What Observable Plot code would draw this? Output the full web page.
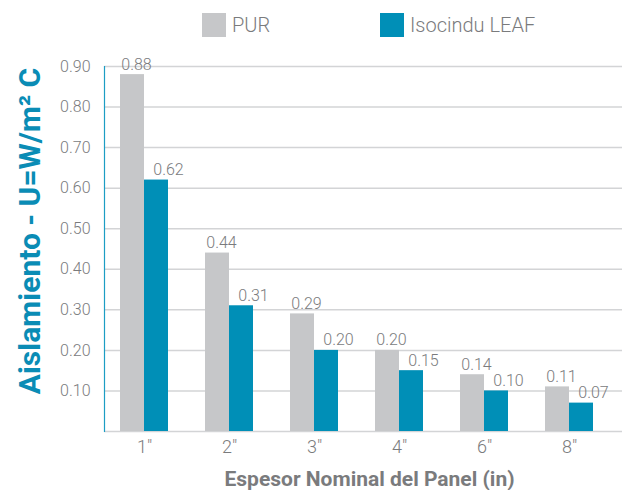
<!DOCTYPE html>
<html>
<head>
<meta charset="utf-8">
<script src="https://cdn.jsdelivr.net/npm/d3@7"></script>
<script src="https://cdn.jsdelivr.net/npm/@observablehq/plot@0.6"></script>
<style>
  html, body { margin: 0; padding: 0; background: #fff; }
  #wrap { position: relative; width: 630px; height: 490px; font-family: Roboto, "DejaVu Sans", sans-serif; }
  #legend { position: absolute; top: 0; left: 0; width: 630px; height: 50px; }
  .item { position: absolute; top: 13px; display: flex; align-items: center; }
  .sw { width: 24px; height: 24px; margin-right: 6px; }
  .lab { font-size: 20px; font-weight: 300; color: #7a7b7d; line-height: 24px; }
  #chart { position: absolute; top: 0; left: 0; }
</style>
</head>
<body>
<div id="wrap">
  <div id="chart"></div>
  <div id="legend"></div>
</div>
<script>
const categories = ["1″", "2″", "3″", "4″", "6″", "8″"];
const seriesNames = ["PUR", "Isocindu LEAF"];
const purValues = [0.88, 0.44, 0.29, 0.20, 0.14, 0.11];
const leafValues = [0.62, 0.31, 0.20, 0.15, 0.10, 0.07];
const yTicks = [0.1, 0.2, 0.3, 0.4, 0.5, 0.6, 0.7, 0.8, 0.9];
const colors = ["#c6c7c9", "#008fb7"];
const yTitle = "Aislamiento - U=W/m² C";
const xTitle = "Espesor Nominal del Panel (in)";

const pur = categories.map((c, i) => ({cat: c, value: purValues[i]}));
const leaf = categories.map((c, i) => ({cat: c, value: leafValues[i]}));
const fmt = d3.format(".2f");

const plot = Plot.plot({
  width: 630,
  height: 490,
  marginTop: 66,
  marginBottom: 59,
  marginLeft: 104,
  marginRight: 8,
  style: {fontFamily: "Roboto, 'DejaVu Sans', sans-serif", background: "#fff"},
  x: {type: "band", domain: categories, range: [101, 611], paddingInner: 0.44, paddingOuter: 0.2, label: null},
  y: {domain: [0, 0.9], label: null},
  marks: [
    Plot.ruleY([0, ...yTicks], {stroke: "#d3d4d6", strokeWidth: 1.5}),
    Plot.barY(pur, {x: "cat", y: "value", fill: colors[0], insetRight: 24, insetLeft: 0}),
    Plot.barY(leaf, {x: "cat", y: "value", fill: colors[1], insetLeft: 24, insetRight: 0}),
    Plot.text(pur, {x: "cat", y: "value", text: d => fmt(d.value), dx: -8, dy: -5, lineAnchor: "bottom", fontSize: 16, fontWeight: 300, fill: "#7a7b7d"}),
    Plot.text(leaf, {x: "cat", y: "value", text: d => fmt(d.value), dx: 24, dy: -5, lineAnchor: "bottom", fontSize: 16, fontWeight: 300, fill: "#7a7b7d"}),
    Plot.axisY({ticks: yTicks, tickSize: 0, tickPadding: 14, tickFormat: fmt, fontSize: 16, fontWeight: 300, fill: "#7a7b7d", label: null}),
    Plot.axisX({tickSize: 0, tickPadding: 9, fontSize: 18, fontWeight: 300, fill: "#7a7b7d", label: null}),
    Plot.frame({anchor: "left", stroke: "#1c9dc4", strokeWidth: 1.2}),
    Plot.text([yTitle], {frameAnchor: "left", textAnchor: "middle", lineAnchor: "middle", rotate: -90, dx: -74, dy: -18, fontSize: 30, fontWeight: "bold", fill: "#0a8cb5"}),
    Plot.text([xTitle], {frameAnchor: "bottom", textAnchor: "middle", lineAnchor: "middle", dx: 6, dy: 48, fontSize: 21, fontWeight: "bold", fill: "#7a7b7d"})
  ]
});
document.getElementById("chart").appendChild(plot);

const legend = document.getElementById("legend");
const lefts = [202, 380];
seriesNames.forEach((name, i) => {
  const it = document.createElement("div");
  it.className = "item";
  it.style.left = lefts[i] + "px";
  const sw = document.createElement("div");
  sw.className = "sw";
  sw.style.background = colors[i];
  const lab = document.createElement("span");
  lab.className = "lab";
  lab.textContent = name;
  it.appendChild(sw);
  it.appendChild(lab);
  legend.appendChild(it);
});
</script>
</body>
</html>
